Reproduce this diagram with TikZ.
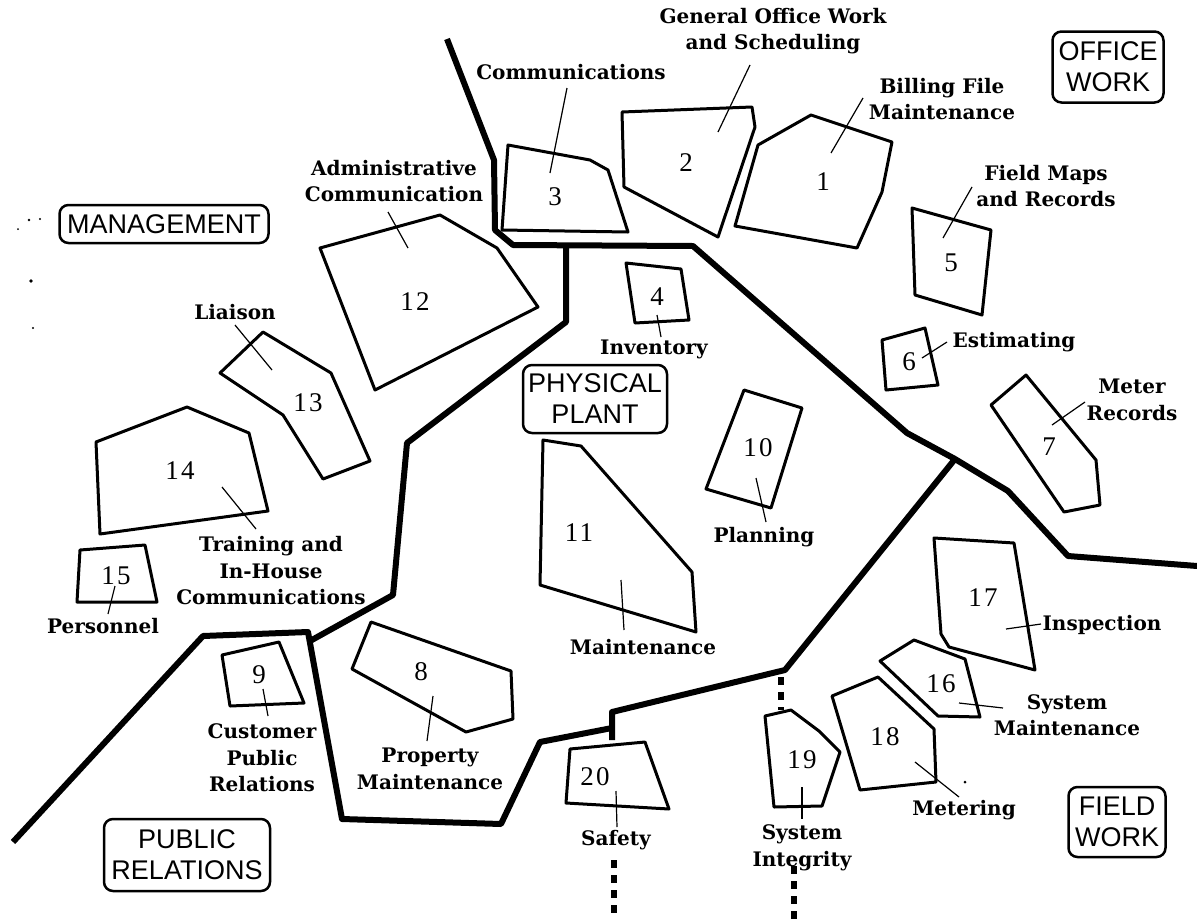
\documentclass[tikz,border=0pt]{standalone}
\usepackage{fontspec}
\usepackage{graphicx}
\newfontfamily\lblfont{DejaVu Serif}
\newfontfamily\boxfont{Liberation Sans}
\newfontfamily\numfont{Liberation Serif}[LetterSpace=8]
\begin{document}
\begin{tikzpicture}[x=1pt,y=-1pt,
  wall/.style={line width=6pt, line join=round},
  dotwall/.style={line width=5.5pt, dash pattern=on 8pt off 7pt},
  area/.style={line width=3pt, line join=round},
  lead/.style={line width=1.2pt},
  lbl/.style={font=\lblfont\bfseries\fontsize{20}{26.5}\selectfont, align=center, inner sep=0pt},
  num/.style={font=\numfont\fontsize{27}{27}\selectfont, inner sep=0pt},
  region/.style={draw, line width=2.5pt, rounded corners=9pt, align=center, inner sep=0pt,
    font=\boxfont\fontsize{27}{31}\selectfont},
  speck/.style={fill=black}
]
\useasboundingbox (0,0) rectangle (1197,919);

% ---------- boundary walls ----------
\draw[wall] (447,39) -- (494,160) -- (495,230) -- (513,245) -- (693,246) -- (907,433) -- (955,459) -- (1008,491) -- (1068,556) -- (1197,566);
\draw[wall] (566,246) -- (566,322) -- (407,443) -- (393,595) -- (310,641);
\draw[wall] (13,842) -- (203,636) -- (308,632) -- (342,819) -- (501,824) -- (540,742) -- (612,728);
\draw[wall] (612,740) -- (612,712) -- (785,670) -- (955,459);
\draw[dotwall] (781,677) -- (781,710);
\draw[dotwall] (614,860) -- (614,919);
\draw[dotwall] (794,866) -- (794,919);

% ---------- areas ----------
\draw[area] (508,145) -- (590,160) -- (608,170) -- (628,232) -- (502,230) -- cycle; % 3
\draw[area] (622,112) -- (752,107) -- (755,127) -- (718,237) -- (624,187) -- cycle; % 2
\draw[area] (758,145) -- (811,115) -- (892,142) -- (882,192) -- (857,248) -- (735,226) -- cycle; % 1
\draw[area] (912,208) -- (991,230) -- (982,315) -- (915,295) -- cycle; % 5
\draw[area] (626,263) -- (681,269) -- (689,320) -- (635,323) -- cycle; % 4
\draw[area] (882,340) -- (925,328) -- (938,385) -- (886,390) -- cycle; % 6
\draw[area] (991,405) -- (1026,375) -- (1096,460) -- (1100,505) -- (1064,512) -- cycle; % 7
\draw[area] (320,248) -- (440,215) -- (497,248) -- (538,307) -- (375,390) -- cycle; % 12
\draw[area] (220,373) -- (263,332) -- (331,373) -- (370,461) -- (323,479) -- (283,415) -- cycle; % 13
\draw[area] (96,442) -- (187,407) -- (249,433) -- (268,511) -- (100,534) -- cycle; % 14
\draw[area] (80,550) -- (145,545) -- (157,602) -- (77,602) -- cycle; % 15
\draw[area] (222,655) -- (279,642) -- (304,703) -- (230,706) -- cycle; % 9
\draw[area] (371,622) -- (511,671) -- (513,719) -- (466,732) -- (352,669) -- cycle; % 8
\draw[area] (570,749) -- (645,742) -- (669,809) -- (566,803) -- cycle; % 20
\draw[area] (543,440) -- (581,446) -- (692,572) -- (696,632) -- (540,585) -- cycle; % 11
\draw[area] (744,390) -- (802,408) -- (771,508) -- (706,489) -- cycle; % 10
\draw[area] (934,538) -- (1014,543) -- (1035,670) -- (949,647) -- (941,634) -- cycle; % 17
\draw[area] (880,661) -- (914,640) -- (965,659) -- (980,717) -- (938,716) -- cycle; % 16
\draw[area] (832,696) -- (878,677) -- (934,729) -- (936,782) -- (860,790) -- cycle; % 18
\draw[area] (765,716) -- (791,710) -- (819,731) -- (840,752) -- (822,806) -- (774,807) -- cycle; % 19

% ---------- numbers ----------
\node[num] (n1) at (823,182) {1};
\node[num] (n2) at (686,163) {2};
\node[num] (n3) at (555,197) {3};
\node[num] (n4) at (657,297) {4};
\node[num] (n5) at (951,263) {5};
\node[num] (n6) at (909,362) {6};
\node[num] (n7) at (1049,447) {7};
\node[num] (n8) at (421,672) {8};
\node[num] (n9) at (259,675) {9};
\node[num] (n10) at (758,448) {10};
\node[num] (n11) at (579,533) {11};
\node[num] (n12) at (415,302) {12};
\node[num] (n13) at (308,403) {13};
\node[num] (n14) at (180,471) {14};
\node[num] (n15) at (116,576) {15};
\node[num] (n16) at (941,684) {16};
\node[num] (n17) at (983,598) {17};
\node[num] (n18) at (885,737) {18};
\node[num] (n19) at (802,760) {19};
\node[num] (n20) at (595,777) {20};

% ---------- labels ----------
\node[lbl] (l2) at (773,31) {General Office Work\\and Scheduling};
\node[lbl] (l3) at (571,72) {Communications};
\node[lbl] (l1) at (942,99) {Billing File\\Maintenance};
\node[lbl] (l12) at (394,181) {Administrative\\Communication};
\node[lbl] (l5) at (1046,186) {Field Maps\\and Records};
\node[lbl] (l13) at (235,312) {Liaison};
\node[lbl] (l4) at (654,349) {Inventory};
\node[lbl] (l6) at (1014,342) {Estimating};
\node[lbl] (l7) at (1132,400) {Meter\\Records};
\node[lbl] (l10) at (764,537) {Planning};
\node[lbl] (l14) at (271,571) {Training and\\In-House\\Communications};
\node[lbl] (l15) at (103,626) {Personnel};
\node[lbl] (l11) at (643,647) {Maintenance};
\node[lbl] (l17) at (1102,625) {Inspection};
\node[lbl] (l16) at (1067,715) {System\\Maintenance};
\node[lbl] (l9) at (262,758) {Customer\\Public\\Relations};
\node[lbl] (l8) at (430,769) {Property\\Maintenance};
\node[lbl] (l18) at (964,810) {Metering};
\node[lbl] (l20) at (616,840) {Safety};
\node[lbl] (l19) at (802,848) {System\\Integrity};

% ---------- leader lines ----------
\draw[lead] (567,88) -- (550,173);
\draw[lead] (750,65) -- (718,132);
\draw[lead] (863,98) -- (831,153);
\draw[lead] (972,187) -- (943,238);
\draw[lead] (657,315) -- (661,337);
\draw[lead] (922,358) -- (947,342);
\draw[lead] (1085,402) -- (1052,425);
\draw[lead] (388,212) -- (408,248);
\draw[lead] (235,325) -- (272,370);
\draw[lead] (222,487) -- (256,529);
\draw[lead] (115,586) -- (108,614);
\draw[lead] (263,689) -- (268,716);
\draw[lead] (433,696) -- (427,741);
\draw[lead] (616,791) -- (617,827);
\draw[lead] (621,580) -- (624,630);
\draw[lead] (756,478) -- (766,522);
\draw[lead] (1006,629) -- (1041,624);
\draw[lead] (959,703) -- (1003,708);
\draw[lead] (915,762) -- (959,797);
\draw[lead] (802,787) -- (802,819);

% ---------- region boxes ----------
\node[region, minimum width=209pt, minimum height=38pt] (mgmt) at (164,224) {MANAGEMENT};
\node[region, minimum width=111pt, minimum height=71pt] (office) at (1108,67) {OFFICE\\WORK};
\node[region, minimum width=144pt, minimum height=68pt] (plant) at (595,399) {PHYSICAL\\PLANT};
\node[region, minimum width=166pt, minimum height=72pt] (public) at (187,855) {PUBLIC\\RELATIONS};
\node[region, minimum width=97pt, minimum height=70pt] (field) at (1117,822) {FIELD\\WORK};

% ---------- scan specks ----------
\fill[speck] (29,220) circle (1.3);
\fill[speck] (40,219) circle (1.1);
\fill[speck] (18,229) circle (1);
\fill[speck] (31,281) circle (1.8);
\fill[speck] (33,328) circle (1.1);
\fill[speck] (965,782) circle (1.5);
\end{tikzpicture}
\end{document}
